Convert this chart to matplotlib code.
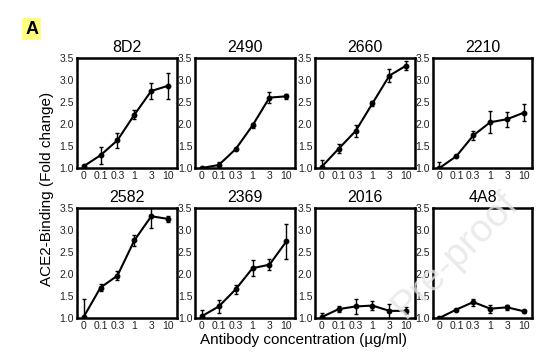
import matplotlib
matplotlib.use('Agg')
import matplotlib.pyplot as plt

plt.rcParams['font.family'] = ['Liberation Sans', 'DejaVu Sans']

# concentrations (ug/ml) shown as evenly spaced categories
conc_labels = ['0', '0.1', '0.3', '1', '3', '10']

antibodies = ['8D2', '2490', '2660', '2210', '2582', '2369', '2016', '4A8']

# mean fold change per antibody
mean_8d2 = [1.04, 1.29, 1.63, 2.21, 2.75, 2.87]
mean_2490 = [1.00, 1.07, 1.43, 1.97, 2.60, 2.63]
mean_2660 = [1.03, 1.44, 1.84, 2.47, 3.10, 3.33]
mean_2210 = [1.00, 1.27, 1.74, 2.04, 2.11, 2.26]
mean_2582 = [1.02, 1.69, 1.96, 2.76, 3.31, 3.25]
mean_2369 = [1.04, 1.26, 1.65, 2.13, 2.21, 2.74]
mean_2016 = [1.02, 1.20, 1.26, 1.28, 1.16, 1.16]
mean_4a8 = [1.00, 1.19, 1.36, 1.21, 1.24, 1.15]

# error bars
err_8d2 = [0.03, 0.19, 0.17, 0.10, 0.18, 0.30]
err_2490 = [0.02, 0.07, 0.03, 0.05, 0.12, 0.06]
err_2660 = [0.15, 0.10, 0.13, 0.06, 0.15, 0.10]
err_2210 = [0.13, 0.03, 0.10, 0.25, 0.17, 0.19]
err_2582 = [0.40, 0.08, 0.10, 0.12, 0.26, 0.07]
err_2369 = [0.14, 0.14, 0.10, 0.18, 0.13, 0.40]
err_2016 = [0.10, 0.07, 0.17, 0.11, 0.16, 0.08]
err_4a8 = [0.03, 0.02, 0.08, 0.09, 0.06, 0.03]

means = [mean_8d2, mean_2490, mean_2660, mean_2210,
         mean_2582, mean_2369, mean_2016, mean_4a8]
errs = [err_8d2, err_2490, err_2660, err_2210,
        err_2582, err_2369, err_2016, err_4a8]

yticks = [1.0, 1.5, 2.0, 2.5, 3.0, 3.5]

fig = plt.figure(figsize=(5.45, 3.56), dpi=100)

lefts = [0.141, 0.358, 0.578, 0.794]
bottoms = [0.528, 0.107]
w, h = 0.183, 0.309

x = list(range(len(conc_labels)))
for i, name in enumerate(antibodies):
    ax = fig.add_axes([lefts[i % 4], bottoms[i // 4], w, h])
    ax.errorbar(x, means[i], yerr=errs[i], color='black', lw=1.5,
                marker='o', markersize=3.2, elinewidth=1, capsize=1.5,
                capthick=1)
    ax.set_xlim(-0.4, 5.5)
    ax.set_ylim(1.0, 3.5)
    ax.set_yticks(yticks)
    ax.set_yticklabels([f'{t:.1f}' for t in yticks])
    ax.set_xticks(x)
    ax.set_xticklabels(conc_labels)
    ax.tick_params(length=0, labelsize=7.5, pad=2, colors='#222222')
    for s in ax.spines.values():
        s.set_linewidth(1.8)
    ax.set_title(name, fontsize=11.5, pad=4)

fig.text(0.086, 0.47, 'ACE2-Binding (Fold change)', rotation=90,
         ha='center', va='center', fontsize=11)
fig.text(0.556, 0.045, 'Antibody concentration (\u00b5g/ml)',
         ha='center', va='center', fontsize=11)

fig.text(0.058, 0.918, 'A', fontsize=13, fontweight='bold',
         ha='center', va='center',
         bbox=dict(facecolor='#ffff80', edgecolor='none', pad=2))

# faint watermark
fig.text(0.835, 0.285, 'Pre-proof', rotation=45, fontsize=28,
         color='#e6e6e6', ha='center', va='center', alpha=0.8, zorder=10)

fig.savefig('out.png', dpi=100)
